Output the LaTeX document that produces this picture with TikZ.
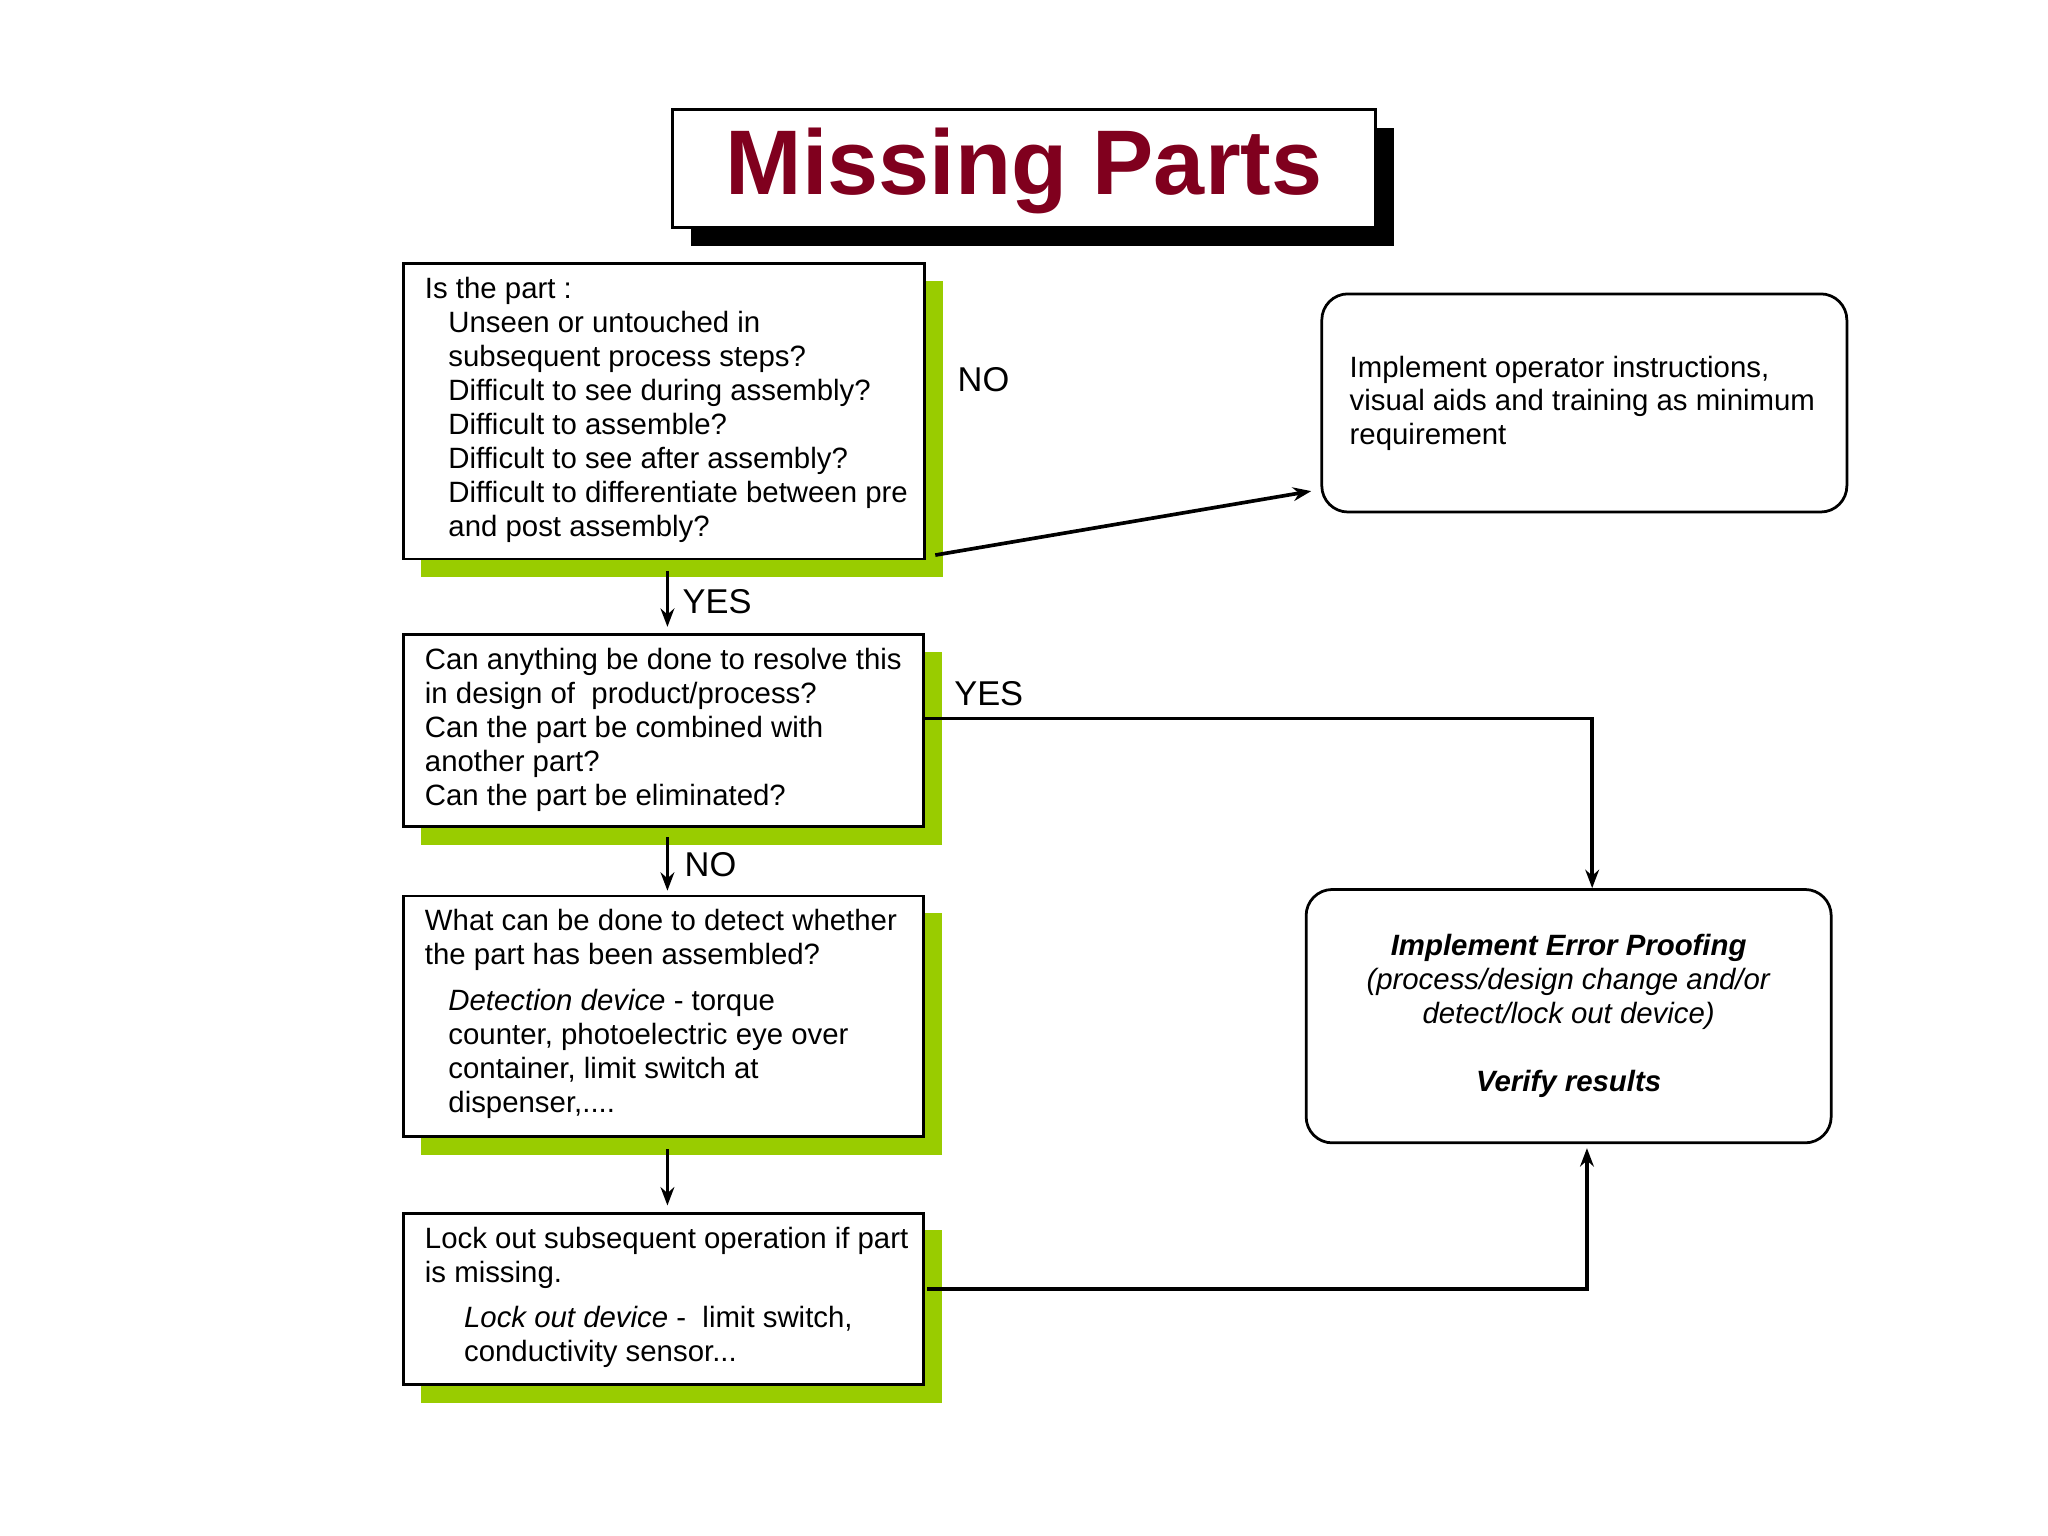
\documentclass[tikz,border=0pt]{standalone}
\usepackage{fontspec}
\setmainfont{Liberation Sans}
\usetikzlibrary{fit,arrows.meta}
\definecolor{titlered}{RGB}{128,0,30}
\definecolor{lime}{RGB}{153,204,0}
\begin{document}
\begin{tikzpicture}[x=0.02cm,y=-0.02cm,
  box/.style={draw=black,line width=1.2pt,fill=white,inner sep=0pt},
  rbox/.style={box,rounded corners=0.4cm},
  shad/.style={fill=lime,draw=none,inner sep=0pt},
  txt/.style={anchor=north west,align=left,inner sep=0pt,font=\fontsize{12.8}{14.8}\selectfont},
  lbl/.style={inner sep=0pt,font=\fontsize{15}{17}\selectfont},
  arr/.style={line width=1.6pt,-{Stealth[length=8pt,width=6pt]}}]
\useasboundingbox (0,0) rectangle (1568,1176);
% title
\node[fill=black,inner sep=0pt,fit={(529,98)(1067,188)}] {};
\node[box,fit={(515,84)(1053,174)}] (title) {};
\node[font=\fontsize{40}{44}\selectfont\bfseries,text=titlered] at (784,131) {Missing Parts};
% box1
\node[shad,fit={(322,215)(722,442)}] {};
\node[box,fit={(309,202)(708,428)}] (b1) {};
\node[txt] at (325,212) {Is the part :\\
\hspace*{0.36cm}Unseen or untouched in\\
\hspace*{0.36cm}subsequent process steps?\\
\hspace*{0.36cm}Difficult to see during assembly?\\
\hspace*{0.36cm}Difficult to assemble?\\
\hspace*{0.36cm}Difficult to see after assembly?\\
\hspace*{0.36cm}Difficult to differentiate between pre\\
\hspace*{0.36cm}and post assembly?};
% impl
\node[rbox,fit={(1012,225)(1414,392)}] (impl) {};
\node[txt] at (1033,272) {Implement operator instructions,\\visual aids and training as minimum\\requirement};
% box2
\node[shad,fit={(322,499)(721,647)}] {};
\node[box,fit={(309,486)(707,633)}] (b2) {};
\node[txt] at (325,496) {Can anything be done to resolve this\\in design of \ product/process?\\Can the part be combined with\\another part?\\Can the part be eliminated?};
% box3
\node[shad,fit={(322,699)(721,884)}] {};
\node[box,fit={(309,686)(707,870)}] (b3) {};
\node[txt] at (325,696) {What can be done to detect whether\\the part has been assembled?\\[0.18cm]
\hspace*{0.36cm}\textit{Detection device} - torque\\
\hspace*{0.36cm}counter, photoelectric eye over\\
\hspace*{0.36cm}container, limit switch at\\
\hspace*{0.36cm}dispenser,....};
% box4
\node[shad,fit={(322,942)(721,1074)}] {};
\node[box,fit={(309,929)(707,1060)}] (b4) {};
\node[txt] at (325,939) {Lock out subsequent operation if part\\is missing.\\[0.18cm]
\hspace*{0.6cm}\textit{Lock out device} - \ limit switch,\\
\hspace*{0.6cm}conductivity sensor...};
% error proofing
\node[rbox,fit={(1000,681)(1402,875)}] (ep) {};
\node[align=center,inner sep=0pt,anchor=north,font=\fontsize{12.8}{14.8}\selectfont] at (1201,715) {\textbf{\textit{Implement Error Proofing}}\\\textit{(process/design change and/or}\\\textit{detect/lock out device)}\\[0.52cm]\textbf{\textit{Verify results}}};
% connectors
\draw[arr] ([xshift=0.14cm,yshift=-2.2cm]b1.east) -- ([xshift=-0.14cm,yshift=-1.35cm]impl.west);
\node[lbl] at (753,291) {NO};
\draw[arr] ([yshift=-0.16cm]b1.south -| 511,0) -- ([yshift=0.1cm]b2.north -| 511,0);
\node[lbl] at (549,461) {YES};
\draw[arr] (707,550) -| (ep.north -| 1219,0);
\node[lbl] at (757,531) {YES};
\draw[arr] ([yshift=-0.14cm]b2.south -| 511,0) -- ([yshift=0.06cm]b3.north -| 511,0);
\node[lbl] at (544,662) {NO};
\draw[arr] ([yshift=-0.18cm]b3.south -| 511,0) -- ([yshift=0.1cm]b4.north -| 511,0);
\draw[arr] (710,987) -| ([yshift=-0.06cm]ep.south -| 1215,0);
\end{tikzpicture}
\end{document}
